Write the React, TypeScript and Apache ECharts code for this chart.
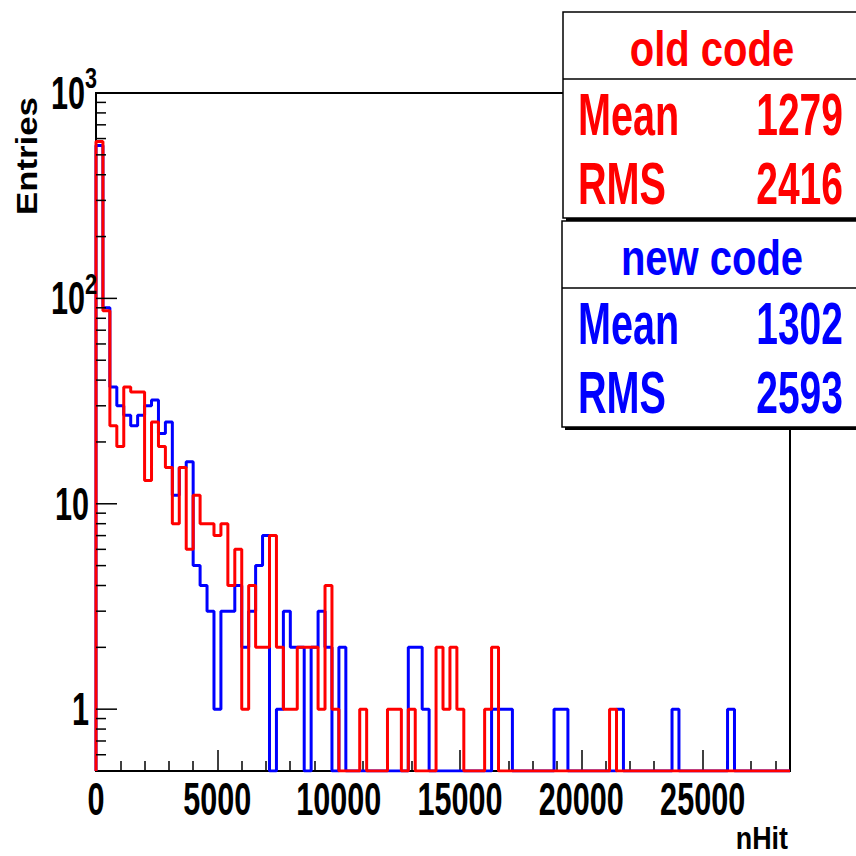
import React, { useEffect, useRef } from "react";
import * as echarts from "echarts";

// ---- data ----
const BIN_WIDTH = 286;
const X_MAX = 28600;
const Y_MIN = 0.5;
const Y_MAX = 1000;

// old code (red) histogram counts per bin
const oldCode = [
  580, 87, 24, 19, 37, 35, 35, 13, 25, 19,
  15, 8, 15, 6, 11, 8, 8, 7, 8, 4,
  6, 1, 4, 2, 2, 7, 2, 1, 1, 2,
  2, 2, 1, 4, 1, 0, 0, 0, 1, 0,
  0, 0, 1, 1, 0, 1, 0, 0, 0, 2,
  1, 2, 1, 0, 0, 0, 1, 2, 0, 0,
  0, 0, 0, 0, 0, 0, 0, 0, 0, 0,
  0, 0, 0, 0, 1, 0, 0, 0, 0, 0,
  0, 0, 0, 0, 0, 0, 0, 0, 0, 0,
  0, 0, 0, 0, 0, 0, 0, 0, 0, 0,
];

// new code (blue) histogram counts per bin
const newCode = [
  555, 90, 37, 30, 27, 24, 27, 30, 32, 22,
  25, 11, 15, 16, 5, 4, 3, 1, 3, 3,
  4, 2, 3, 5, 7, 0, 1, 3, 2, 2,
  0, 2, 3, 2, 0, 2, 0, 0, 0, 0,
  0, 0, 0, 0, 0, 2, 2, 1, 0, 0,
  0, 0, 0, 0, 0, 0, 0, 1, 1, 1,
  0, 0, 0, 0, 0, 0, 1, 1, 0, 0,
  0, 0, 0, 0, 0, 1, 0, 0, 0, 0,
  0, 0, 0, 1, 0, 0, 0, 0, 0, 0,
  0, 1, 0, 0, 0, 0, 0, 0, 0, 0,
];

const xTickLabels = [0, 5000, 10000, 15000, 20000, 25000];
const yLabelValues = [1, 10, 100, 1000];
const yLabelBase = ["1", "10", "10", "10"];
const yLabelExp = ["", "", "2", "3"];
const yMajorTicks = [1, 10, 100, 1000];
const yMinorTicks = [
  0.6, 0.7, 0.8, 0.9,
  2, 3, 4, 5, 6, 7, 8, 9,
  20, 30, 40, 50, 60, 70, 80, 90,
  200, 300, 400, 500, 600, 700, 800, 900,
];

const statNames = ["Mean", "RMS"];
const oldStats = [1279, 2416];
const newStats = [1302, 2593];

const RED = "#ff0000";
const BLUE = "#0000ff";
const FONT = '"Liberation Sans", Arial, Helvetica, sans-serif';

function stepPoints(counts: number[]) {
  const pts: number[][] = [[0, Y_MIN]];
  counts.forEach((c, i) => {
    const v = c > 0 ? c : Y_MIN;
    pts.push([i * BIN_WIDTH, v], [(i + 1) * BIN_WIDTH, v]);
  });
  pts.push([counts.length * BIN_WIDTH, Y_MIN]);
  return pts;
}

function statBox(
  top: number,
  left: number,
  title: string,
  values: number[],
  color: string
) {
  const height = 206;
  const children: any[] = [
    {
      type: "rect",
      shape: { x: left + 3, y: top + 3, width: 320, height },
      style: { fill: "#000" },
    },
    {
      type: "rect",
      shape: { x: left, y: top, width: 320, height },
      style: { fill: "#fff", stroke: "#000", lineWidth: 1.5 },
    },
    {
      type: "line",
      shape: { x1: left, y1: top + 67, x2: left + 320, y2: top + 67 },
      style: { stroke: "#000", lineWidth: 1.5 },
    },
    {
      type: "text",
      x: 712,
      y: top + 37,
      scaleX: 0.8,
      style: {
        text: title,
        fill: color,
        font: `bold 50px ${FONT}`,
        align: "center",
        verticalAlign: "middle",
      },
    },
  ];
  statNames.forEach((name, i) => {
    const cy = top + 102 + i * 69;
    children.push(
      {
        type: "text",
        x: 578,
        y: cy,
        scaleX: 0.66,
        style: {
          text: name,
          fill: color,
          font: `bold 60px ${FONT}`,
          align: "left",
          verticalAlign: "middle",
        },
      },
      {
        type: "text",
        x: 843,
        y: cy,
        scaleX: 0.65,
        style: {
          text: String(values[i]),
          fill: color,
          font: `bold 60px ${FONT}`,
          align: "right",
          verticalAlign: "middle",
        },
      }
    );
  });
  return { type: "group", z: 100, children };
}

export default function App() {
  const ref = useRef<HTMLDivElement>(null);

  useEffect(() => {
    if (!ref.current) return;
    const chart = echarts.init(ref.current, null, { renderer: "svg" });

    const yTickData = [
      ...yMajorTicks.map((v) => [0, v, 1]),
      ...yMinorTicks.map((v) => [0, v, 0]),
    ];

    const option: any = {
      animation: false,
      backgroundColor: "#fff",
      grid: {
        left: 96,
        right: 66,
        top: 93,
        bottom: 85,
        show: true,
        borderColor: "#000",
        borderWidth: 2,
        backgroundColor: "transparent",
      },
      xAxis: {
        type: "value",
        min: 0,
        max: X_MAX,
        interval: 5000,
        axisLine: { show: true, lineStyle: { color: "#000", width: 2 } },
        axisTick: { show: true, inside: true, length: 21, lineStyle: { color: "#000", width: 1.5 } },
        minorTick: { show: true, splitNumber: 5, length: 10, lineStyle: { color: "#000", width: 1.5 } },
        axisLabel: { show: false },
        splitLine: { show: false },
      },
      yAxis: {
        type: "log",
        logBase: 10,
        min: Y_MIN,
        max: Y_MAX,
        axisLine: { show: true, lineStyle: { color: "#000", width: 2 } },
        axisTick: { show: false },
        axisLabel: { show: false },
        splitLine: { show: false },
      },
      series: [
        {
          name: "new code",
          type: "line",
          data: stepPoints(newCode),
          showSymbol: false,
          symbol: "none",
          lineStyle: { color: BLUE, width: 3 },
          itemStyle: { color: BLUE },
          z: 3,
        },
        {
          name: "old code",
          type: "line",
          data: stepPoints(oldCode),
          showSymbol: false,
          symbol: "none",
          lineStyle: { color: RED, width: 3 },
          itemStyle: { color: RED },
          z: 4,
        },
        {
          type: "custom",
          data: yTickData,
          silent: true,
          z: 5,
          renderItem: (_params: any, api: any) => {
            const p = api.coord([0, api.value(1)]);
            const len = api.value(2) === 1 ? 21 : 10;
            return {
              type: "line",
              shape: { x1: p[0], y1: p[1], x2: p[0] + len, y2: p[1] },
              style: { stroke: "#000", lineWidth: 1.5 },
            };
          },
        },
        {
          type: "custom",
          data: xTickLabels.map((v) => [v, Y_MIN]),
          silent: true,
          clip: false,
          z: 5,
          renderItem: (_params: any, api: any) => {
            const v = api.value(0);
            const p = api.coord([v, Y_MIN]);
            return {
              type: "text",
              x: p[0],
              y: p[1] + 28,
              scaleX: 0.665,
              style: {
                text: String(v),
                fill: "#000",
                font: `bold 46px ${FONT}`,
                align: "center",
                verticalAlign: "middle",
              },
            };
          },
        },
        {
          type: "custom",
          data: yLabelValues.map((v, i) => [0, v, i]),
          silent: true,
          clip: false,
          z: 5,
          renderItem: (_params: any, api: any) => {
            const idx = api.value(2);
            const p = api.coord([0, api.value(1)]);
            const exp = yLabelExp[idx];
            const children: any[] = [
              {
                type: "text",
                x: exp ? p[0] - 11 : p[0] - 7,
                y: p[1],
                scaleX: 0.665,
                style: {
                  text: yLabelBase[idx],
                  fill: "#000",
                  font: `bold 46px ${FONT}`,
                  align: "right",
                  verticalAlign: "middle",
                },
              },
            ];
            if (exp) {
              children.push({
                type: "text",
                x: p[0] - 11,
                y: p[1] - 15,
                scaleX: 0.72,
                style: {
                  text: exp,
                  fill: "#000",
                  font: `bold 30px ${FONT}`,
                  align: "left",
                  verticalAlign: "middle",
                },
              });
            }
            return { type: "group", children };
          },
        },
      ],
      graphic: [
        {
          type: "text",
          x: 27,
          y: 156,
          rotation: Math.PI / 2,
          scaleX: 1.2,
          style: {
            text: "Entries",
            fill: "#000",
            font: `bold 29px ${FONT}`,
            align: "center",
            verticalAlign: "middle",
          },
        },
        {
          type: "text",
          x: 788,
          y: 838,
          scaleX: 0.84,
          style: {
            text: "nHit",
            fill: "#000",
            font: `bold 32px ${FONT}`,
            align: "right",
            verticalAlign: "middle",
          },
        },
        statBox(12, 563, "old code", oldStats, RED),
        statBox(221, 562, "new code", newStats, BLUE),
      ],
    };

    chart.setOption(option);
    return () => {
      chart.dispose();
    };
  }, []);

  return (
    <div
      ref={ref}
      style={{ position: "fixed", left: 0, top: 0, width: 856, height: 856 }}
    />
  );
}
